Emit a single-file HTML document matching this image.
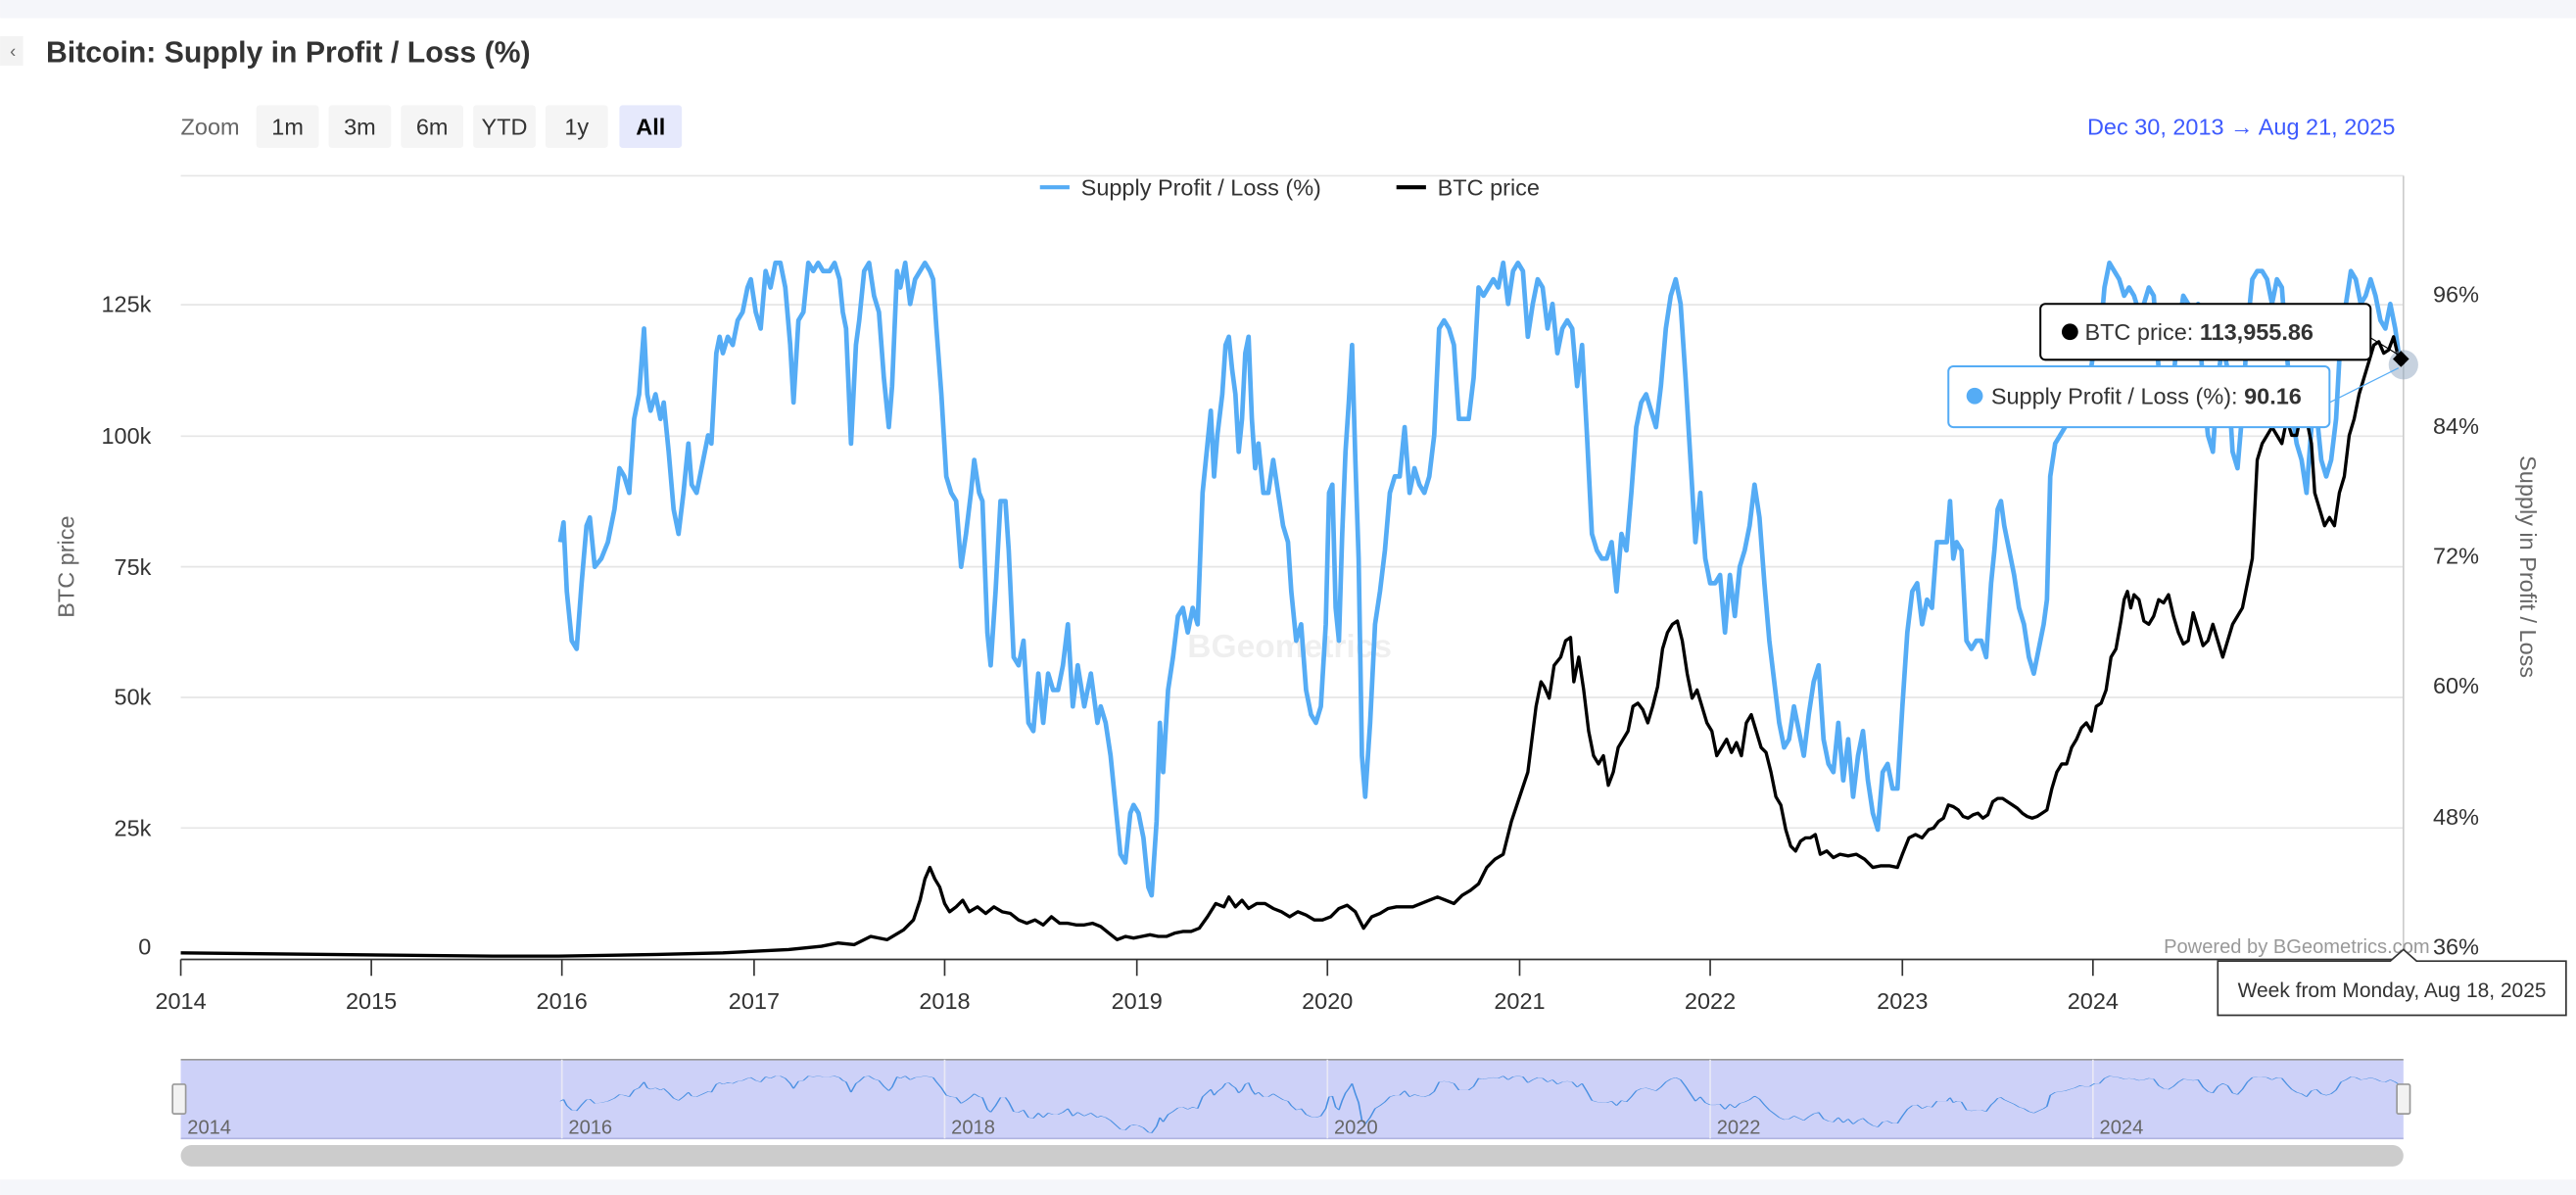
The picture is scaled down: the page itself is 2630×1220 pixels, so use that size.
<!DOCTYPE html>
<html><head><meta charset="utf-8"><style>
html,body{margin:0;padding:0;background:#fff;}
svg{display:block;font-family:"Liberation Sans",sans-serif;}
</style></head><body>
<svg width="2630" height="1220" viewBox="0 0 1568 727.4" xmlns="http://www.w3.org/2000/svg">
<rect x="0" y="0" width="1568" height="727.4" fill="#fff"/>
<rect x="0" y="0" width="1568" height="11" fill="#f5f6fa"/>
<rect x="0" y="718" width="1568" height="10" fill="#f5f6fa"/>
<rect x="0" y="22" width="14" height="18" fill="#f3f3f3"/>
<text x="6" y="35" font-size="11" fill="#666">‹</text>
<text x="28" y="38" font-size="18" font-weight="bold" fill="#333">Bitcoin: Supply in Profit / Loss (%)</text>
<text x="110" y="82" font-size="14" fill="#666">Zoom</text>
<g font-size="14" fill="#333" text-anchor="middle">
<rect x="156" y="64" width="38" height="26" rx="2" fill="#f5f5f5"/><text x="175" y="82">1m</text>
<rect x="200" y="64" width="38" height="26" rx="2" fill="#f5f5f5"/><text x="219" y="82">3m</text>
<rect x="244" y="64" width="38" height="26" rx="2" fill="#f5f5f5"/><text x="263" y="82">6m</text>
<rect x="288" y="64" width="38" height="26" rx="2" fill="#f5f5f5"/><text x="307" y="82">YTD</text>
<rect x="332" y="64" width="38" height="26" rx="2" fill="#f5f5f5"/><text x="351" y="82">1y</text>
<rect x="377" y="64" width="38" height="26" rx="2" fill="#e6e9fc"/><text x="396" y="82" font-weight="bold" fill="#000">All</text>
</g>
<text x="1458" y="82" font-size="14" fill="#3d5afe" text-anchor="end">Dec 30, 2013  →   Aug 21, 2025</text>
<!-- grid -->
<g stroke="#e6e6e6" stroke-width="1">
<line x1="110" y1="107" x2="1463" y2="107"/>
<line x1="110" y1="185.5" x2="1463" y2="185.5"/>
<line x1="110" y1="265.5" x2="1463" y2="265.5"/>
<line x1="110" y1="345" x2="1463" y2="345"/>
<line x1="110" y1="424.5" x2="1463" y2="424.5"/>
<line x1="110" y1="504" x2="1463" y2="504"/>
</g>
<line x1="1463" y1="107" x2="1463" y2="584" stroke="#ccc"/>
<line x1="110" y1="584" x2="1463" y2="584" stroke="#333"/>
<g stroke="#333">
<line x1="110" y1="584" x2="110" y2="594"/><line x1="226" y1="584" x2="226" y2="594"/><line x1="342" y1="584" x2="342" y2="594"/><line x1="459" y1="584" x2="459" y2="594"/><line x1="575" y1="584" x2="575" y2="594"/><line x1="692" y1="584" x2="692" y2="594"/><line x1="808" y1="584" x2="808" y2="594"/><line x1="925" y1="584" x2="925" y2="594"/><line x1="1041" y1="584" x2="1041" y2="594"/><line x1="1158" y1="584" x2="1158" y2="594"/><line x1="1274" y1="584" x2="1274" y2="594"/>
</g>
<g font-size="14" fill="#333" text-anchor="middle">
<text x="110" y="614">2014</text><text x="226" y="614">2015</text><text x="342" y="614">2016</text><text x="459" y="614">2017</text><text x="575" y="614">2018</text><text x="692" y="614">2019</text><text x="808" y="614">2020</text><text x="925" y="614">2021</text><text x="1041" y="614">2022</text><text x="1158" y="614">2023</text><text x="1274" y="614">2024</text>
</g>
<g font-size="14" fill="#333" text-anchor="end">
<text x="92" y="190">125k</text><text x="92" y="270">100k</text><text x="92" y="350">75k</text><text x="92" y="429">50k</text><text x="92" y="509">25k</text><text x="92" y="581">0</text>
</g>
<g font-size="14" fill="#333">
<text x="1481" y="184">96%</text><text x="1481" y="264">84%</text><text x="1481" y="343">72%</text><text x="1481" y="422">60%</text><text x="1481" y="502">48%</text><text x="1481" y="581">36%</text>
</g>
<text transform="translate(45,345) rotate(-90)" font-size="14" fill="#666" text-anchor="middle">BTC price</text>
<text transform="translate(1534,345) rotate(90)" font-size="14" fill="#666" text-anchor="middle">Supply in Profit / Loss</text>
<!-- legend -->
<line x1="633" y1="114" x2="651" y2="114" stroke="#55acf5" stroke-width="2.5"/>
<text x="658" y="119" font-size="14" fill="#333">Supply Profit / Loss (%)</text>
<line x1="850" y1="114" x2="868" y2="114" stroke="#000" stroke-width="2.5"/>
<text x="875" y="119" font-size="14" fill="#333">BTC price</text>
<text x="785" y="400" font-size="20" font-weight="bold" fill="#000" opacity="0.06" text-anchor="middle">BGeometrics</text>
<defs>
<polyline id="blue" fill="none" points="341,330 343,318 345,360 348,390 351,395 354,355 357,320 359,315 362,345 366,340 370,330 374,310 377,285 380,290 383,300 386,255 389,240 392,200 394,240 396,250 399,240 402,255 404,245 407,275 410,310 413,325 416,300 419,270 421,295 424,300 428,280 431,265 433,270 436,215 438,205 440,215 443,205 446,210 449,195 452,190 455,175 457,170 460,190 463,200 466,165 469,175 472,160 475,160 478,175 481,210 483,245 486,195 489,190 492,160 495,165 498,160 501,165 505,165 508,160 511,170 513,190 515,200 518,270 521,210 523,195 526,165 529,160 532,180 535,190 538,230 541,260 543,235 546,165 548,175 551,160 554,185 557,170 560,165 563,160 566,165 568,170 570,200 573,240 576,290 579,300 582,305 585,345 588,325 591,300 593,280 596,300 598,305 601,385 603,405 606,360 609,305 612,305 614,335 617,400 620,405 623,390 626,440 629,445 632,410 635,440 638,410 641,420 644,420 647,405 650,380 653,430 656,405 660,430 664,410 668,440 670,430 673,440 676,460 679,490 682,520 685,525 688,495 690,490 693,495 696,510 699,540 701,545 704,500 706,440 708,470 711,420 714,400 717,375 720,370 723,385 726,370 729,380 732,300 735,270 737,250 739,290 741,265 744,240 746,210 748,205 750,225 752,240 754,275 756,255 758,215 760,205 762,255 764,285 766,270 769,300 772,300 775,280 778,300 781,320 784,330 786,360 789,390 792,380 795,420 798,435 801,440 804,430 807,380 809,300 811,295 813,370 815,390 817,325 819,275 821,245 823,210 825,280 827,340 829,460 831,485 834,440 837,380 840,360 843,335 846,300 849,290 852,290 855,260 858,300 861,285 864,295 867,300 870,290 873,265 876,200 879,195 882,200 885,210 888,255 891,255 894,255 897,230 900,175 903,180 906,175 909,170 912,175 915,160 918,185 921,165 924,160 927,165 930,205 933,185 936,170 939,175 942,200 945,185 948,215 951,200 954,195 957,200 960,235 963,210 966,265 969,325 972,335 975,340 978,340 981,330 984,360 987,325 990,335 993,300 996,260 999,245 1002,240 1005,250 1008,260 1011,235 1014,200 1017,180 1020,170 1023,185 1026,230 1029,280 1032,330 1035,300 1038,340 1041,355 1044,355 1047,350 1050,385 1053,350 1056,375 1059,345 1062,335 1065,320 1068,295 1071,315 1074,355 1077,390 1080,415 1083,440 1086,455 1089,450 1092,430 1095,445 1098,460 1101,435 1104,415 1107,405 1110,450 1113,465 1116,470 1119,440 1122,475 1125,450 1128,485 1131,460 1134,445 1137,475 1140,495 1143,505 1146,470 1149,465 1152,480 1155,480 1158,430 1161,385 1164,360 1167,355 1170,380 1173,365 1176,370 1179,330 1182,330 1185,330 1187,305 1189,340 1191,330 1194,335 1197,390 1200,395 1203,390 1206,390 1209,400 1212,355 1214,335 1216,310 1218,305 1220,320 1223,335 1226,350 1229,370 1232,380 1235,400 1238,410 1241,395 1244,380 1246,365 1248,290 1251,270 1254,265 1257,260 1260,250 1263,240 1266,225 1269,230 1272,230 1275,210 1278,210 1281,175 1284,160 1287,165 1290,170 1293,180 1296,175 1299,180 1302,190 1305,185 1308,175 1311,180 1314,225 1317,245 1320,250 1323,230 1326,200 1329,180 1332,185 1335,190 1338,185 1341,235 1344,265 1347,275 1350,230 1353,210 1356,225 1359,275 1362,285 1365,250 1368,200 1371,170 1374,165 1377,165 1380,170 1383,185 1386,170 1389,175 1392,215 1395,250 1398,270 1401,280 1404,300 1407,260 1410,250 1413,280 1416,290 1419,280 1422,255 1425,200 1428,185 1431,165 1434,170 1437,185 1440,180 1443,170 1446,180 1449,195 1452,200 1455,185 1458,200 1461,222"/>
</defs>
<use href="#blue" stroke="#55acf5" stroke-width="2.8" stroke-linejoin="round"/>
<polyline fill="none" stroke="#000" stroke-width="2" stroke-linejoin="round" points="110,580 200,581 300,582 340,582 400,581 440,580 480,578 500,576 510,574 520,575 530,570 540,572 550,566 556,560 560,548 563,535 566,528 569,535 572,540 575,550 578,555 582,552 586,548 590,555 595,552 600,556 605,552 610,555 615,556 620,560 625,562 630,560 635,563 640,558 645,562 650,562 655,563 660,563 665,562 670,564 675,568 680,572 685,570 690,571 695,570 700,569 705,570 710,570 715,568 720,567 725,567 730,565 735,558 740,550 745,552 748,546 752,552 756,548 760,553 765,550 770,550 775,553 780,555 785,558 790,555 795,557 800,560 805,560 810,558 815,553 820,551 825,555 830,565 835,558 840,556 845,553 850,552 855,552 860,552 865,550 870,548 875,546 880,548 885,550 890,545 895,542 900,538 905,528 910,523 915,520 920,500 925,485 930,470 935,430 938,415 940,418 943,425 946,405 950,400 953,390 956,388 958,415 961,400 964,420 967,445 970,460 973,465 976,460 979,478 982,470 985,455 988,450 991,445 994,430 997,428 1000,432 1003,440 1006,430 1009,418 1012,395 1015,385 1018,380 1021,378 1024,390 1027,410 1030,425 1033,420 1036,430 1039,440 1042,445 1045,460 1048,455 1051,450 1054,458 1057,452 1060,460 1063,440 1066,435 1069,445 1072,455 1075,458 1078,470 1081,485 1084,490 1087,505 1090,515 1093,518 1096,512 1099,510 1102,510 1105,508 1108,520 1112,518 1116,522 1120,520 1125,521 1130,520 1135,523 1140,528 1145,527 1150,527 1155,528 1158,520 1162,510 1166,508 1170,510 1174,505 1177,504 1180,500 1183,498 1186,490 1189,491 1192,493 1195,497 1198,498 1201,496 1204,495 1207,498 1210,496 1213,488 1216,486 1219,486 1222,488 1225,490 1228,492 1231,495 1234,497 1237,498 1240,497 1243,495 1246,493 1249,480 1252,470 1255,465 1258,465 1261,455 1264,450 1267,443 1270,440 1273,445 1276,430 1279,428 1282,420 1285,400 1288,395 1291,378 1293,365 1295,360 1297,370 1299,362 1302,365 1305,378 1308,380 1311,375 1314,365 1317,367 1320,362 1323,375 1326,385 1329,392 1332,390 1335,373 1338,383 1341,393 1344,390 1347,380 1350,390 1353,400 1356,390 1359,380 1362,375 1365,370 1368,355 1371,340 1374,280 1377,270 1380,265 1383,260 1386,265 1389,270 1392,255 1395,265 1398,265 1401,250 1404,255 1407,270 1409,300 1412,310 1415,320 1418,315 1421,320 1424,300 1427,290 1430,265 1433,255 1436,240 1439,230 1442,220 1445,210 1448,208 1451,215 1454,213 1457,205 1460,218 1463,222"/>
<circle cx="1463" cy="222" r="9" fill="#8fa6bf" opacity="0.5"/>
<rect x="1458" y="215" width="7" height="7" fill="#000" transform="rotate(45 1461.5 218.5)"/>
<line x1="1442" y1="205" x2="1460" y2="216" stroke="#000" stroke-width="0.7"/>
<line x1="1418" y1="245" x2="1460" y2="224" stroke="#55acf5" stroke-width="0.7"/>
<!-- tooltips -->
<rect x="1242" y="185" width="201" height="34" rx="3" fill="#fff" stroke="#000" stroke-width="1.2"/>
<circle cx="1260" cy="202" r="5" fill="#000"/>
<text x="1269" y="207" font-size="14" fill="#333">BTC price: <tspan font-weight="bold">113,955.86</tspan></text>
<rect x="1186" y="223" width="232" height="37" rx="3" fill="#fff" stroke="#55acf5" stroke-width="1.2"/>
<circle cx="1202" cy="241" r="5" fill="#55acf5"/>
<text x="1212" y="246" font-size="14" fill="#333">Supply Profit / Loss (%): <tspan font-weight="bold">90.16</tspan></text>
<text x="1479" y="580" font-size="12" fill="#999" text-anchor="end">Powered by BGeometrics.com</text>
<path d="M1350,585 H1455 L1463,578 L1471,585 H1562 V618 H1350 Z" fill="#fff" stroke="#333" stroke-width="1"/>
<text x="1456" y="607" font-size="12.5" fill="#333" text-anchor="middle">Week from Monday, Aug 18, 2025</text>
<!-- navigator -->
<rect x="110" y="645" width="1353" height="48" fill="#cdd1f8"/>
<line x1="110" y1="645" x2="1463" y2="645" stroke="#999"/>
<line x1="110" y1="693" x2="1463" y2="693" stroke="#b0b4e0"/>
<g stroke="#e8e8f5" stroke-width="1"><line x1="342" y1="645" x2="342" y2="693"/><line x1="575" y1="645" x2="575" y2="693"/><line x1="808" y1="645" x2="808" y2="693"/><line x1="1041" y1="645" x2="1041" y2="693"/><line x1="1274" y1="645" x2="1274" y2="693"/></g>
<use href="#blue" stroke="#4a90e2" stroke-width="1" vector-effect="non-scaling-stroke" transform="translate(0,640.6) scale(1,0.09)"/>
<g font-size="12" fill="#666"><text x="114" y="690">2014</text><text x="346" y="690">2016</text><text x="579" y="690">2018</text><text x="812" y="690">2020</text><text x="1045" y="690">2022</text><text x="1278" y="690">2024</text></g>
<rect x="105" y="660" width="8" height="18" rx="1" fill="#f2f2f2" stroke="#999"/>
<rect x="1459" y="660" width="8" height="18" rx="1" fill="#f2f2f2" stroke="#999"/>
<rect x="110" y="697" width="1353" height="13" rx="6.5" fill="#cccccc"/>
</svg>
</body></html>
